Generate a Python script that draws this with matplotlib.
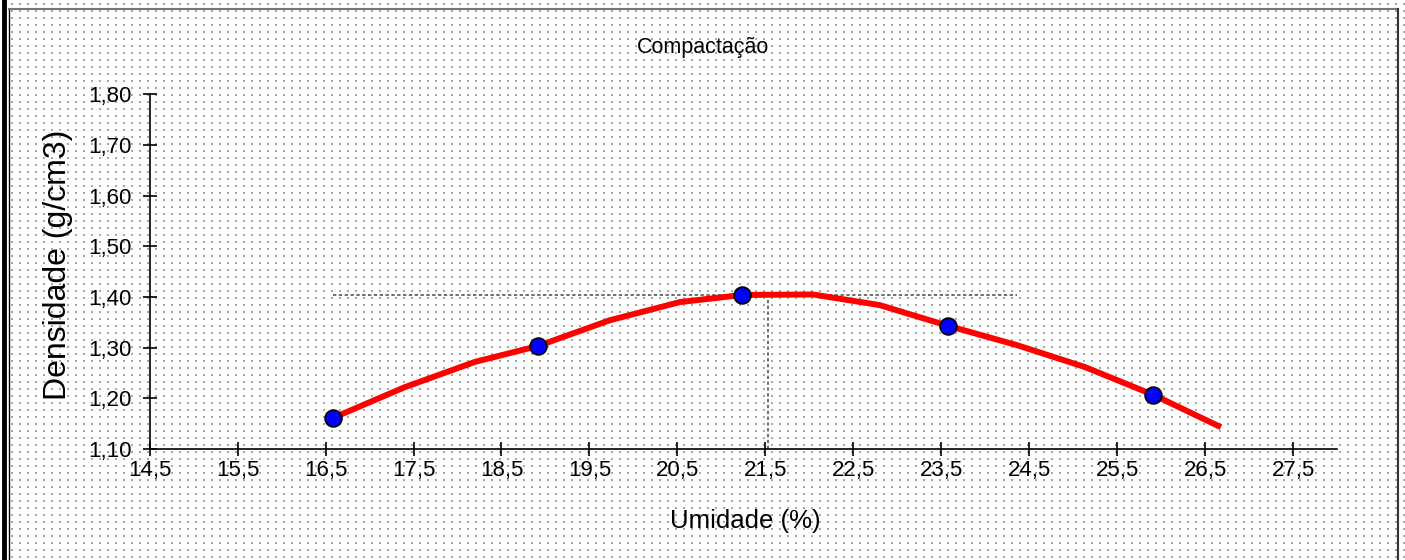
import numpy as np
import matplotlib
matplotlib.use('Agg')
import matplotlib.pyplot as plt
from matplotlib.ticker import FuncFormatter

plt.rcParams['font.family'] = ['Liberation Sans', 'DejaVu Sans']

# ensaio de compactacao - pontos medidos
umidade = [16.58, 18.91, 21.24, 23.58, 25.91]
densidade = [1.161, 1.303, 1.404, 1.343, 1.207]

# curva ajustada
curva_x = [16.58, 17.40, 18.20, 18.91, 19.73, 20.53, 21.24, 22.04, 22.80,
           23.58, 24.36, 25.13, 25.91, 26.68]
curva_y = [1.161, 1.222, 1.272, 1.303, 1.354, 1.390, 1.404, 1.405, 1.384,
           1.343, 1.305, 1.262, 1.207, 1.143]

# umidade otima / densidade maxima
h_ot = 21.53
d_max = 1.404
ref_x0, ref_x1 = 16.58, 24.36

xticks = [14.5 + i for i in range(14)]
yticks = [1.10, 1.20, 1.30, 1.40, 1.50, 1.60, 1.70, 1.80]

W, H = 1405, 560
fig = plt.figure(figsize=(W / 100, H / 100), dpi=100)

# fundo pontilhado estilo Excel
bg = np.ones((H, W, 3))
for dy in (0, 1):
    for dx in (0, 1):
        bg[4 + dy::7, 3 + dx::8] = 0.66
bga = fig.add_axes([0, 0, 1, 1])
bga.imshow(bg, aspect='auto', interpolation='nearest')
bga.axis('off')
bga.plot([3.5, 3.5], [0, H], color='black', lw=3.5)
bga.plot([9, 9], [9, H], color='black', lw=1)
bga.plot([9, 1398], [9, 9], color='#777777', lw=1.5)
bga.plot([1398, 1398], [9, H], color='#333333', lw=1.5)
bga.set_xlim(0, W)
bga.set_ylim(H, 0)

ax = fig.add_axes([149.7 / W, 1 - 449 / H, (1337 - 149.7) / W, (449 - 94.3) / H])
ax.patch.set_alpha(0)
ax.set_xlim(14.5, 28.0)
ax.set_ylim(1.10, 1.80)

ax.plot([ref_x0, ref_x1], [d_max, d_max], color='#555555', lw=1.2, ls=(0, (2, 1.5)))
ax.plot([h_ot, h_ot], [1.10, d_max], color='#555555', lw=1.2, ls=(0, (2, 1.5)))
ax.plot(curva_x, curva_y, color='#ff0000', lw=4.3, solid_capstyle='butt', zorder=3)
ax.plot(umidade, densidade, 'o', color='#0000ff', markeredgecolor='black',
        markersize=12, markeredgewidth=1.3, zorder=4)

ax.spines['top'].set_visible(False)
ax.spines['right'].set_visible(False)
ax.spines['left'].set_linewidth(1.2)
ax.spines['bottom'].set_linewidth(1.2)
ax.set_xticks(xticks)
ax.set_yticks(yticks)
ax.xaxis.set_major_formatter(FuncFormatter(lambda v, p: f'{v:.1f}'.replace('.', ',')))
ax.yaxis.set_major_formatter(FuncFormatter(lambda v, p: f'{v:.2f}'.replace('.', ',')))
ax.tick_params(direction='inout', length=10, width=1.2, labelsize=16)
ax.tick_params(axis='x', pad=3)
ax.tick_params(axis='y', pad=8)

fig.text(703 / W, 1 - 48 / H, 'Compactação', ha='center', va='center', fontsize=15.5)
fig.text(58 / W, 1 - 265 / H, 'Densidade (g/cm3)', ha='center', va='center',
         rotation=90, fontsize=23)
fig.text(745 / W, 1 - 521 / H, 'Umidade (%)', ha='center', va='center', fontsize=18.5)

fig.savefig('out.png', dpi=100)
